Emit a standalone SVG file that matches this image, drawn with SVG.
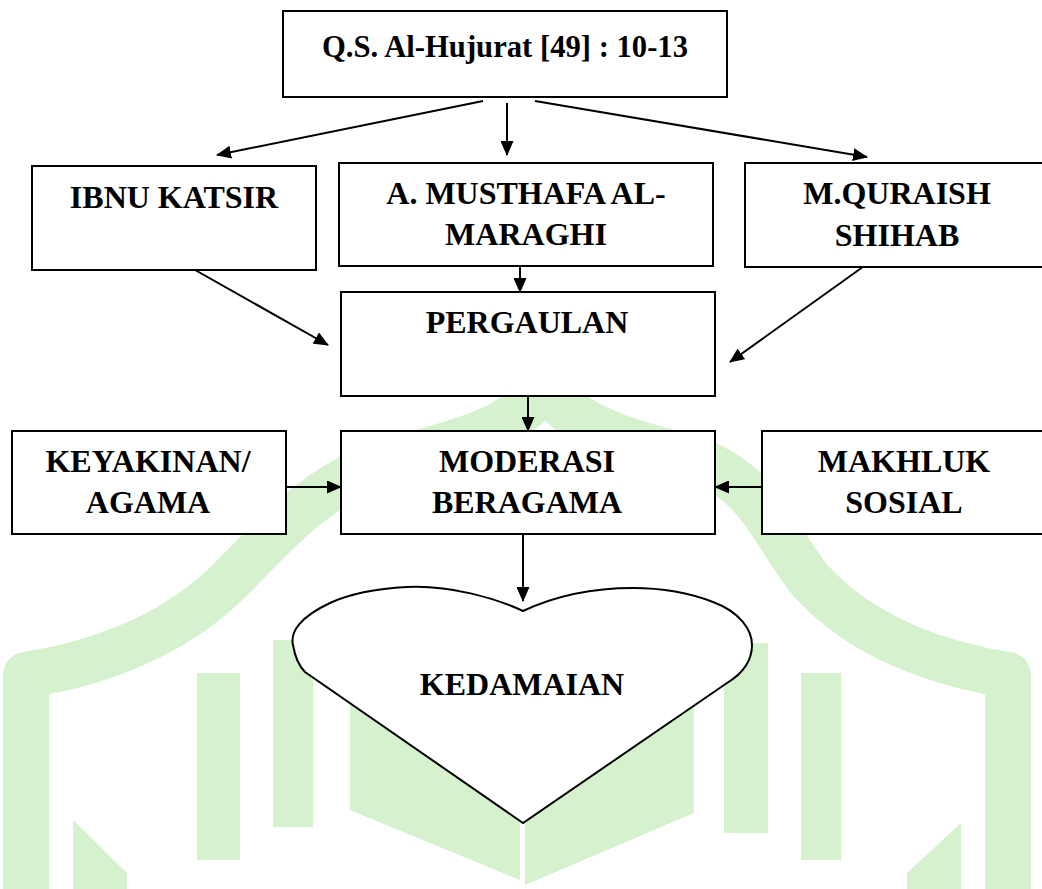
<svg xmlns="http://www.w3.org/2000/svg" width="1042" height="889" viewBox="0 0 1042 889">
<style>
.box{fill:#fff;stroke:#000;stroke-width:2}
.lbl{font-family:'Liberation Serif','Times New Roman',Times,Tinos,'DejaVu Serif',serif;font-weight:700;font-size:32px;fill:#000;text-anchor:middle}
.con{stroke:#000;stroke-width:2;fill:none;marker-end:url(#ah)}
.wm{fill:#d6f1ce}
</style>
<defs>
<marker id="ah" markerUnits="userSpaceOnUse" markerWidth="15" markerHeight="13" refX="14" refY="6.5" orient="auto">
<path d="M0,0 L15,6.5 L0,13 Z" fill="#000"/>
</marker>
</defs>
<rect width="1042" height="889" fill="#fff"/>
<g id="watermark">
<path d="M26,889 L26,675 C90,665 170,640 230,580 C280,530 320,480 400,458 C470,440 520,425 545,385 C570,425 620,440 690,458 C760,480 770,530 810,580 C864,640 944,665 1008,675 L1008,889" fill="none" stroke="#d6f1ce" stroke-width="46" stroke-linejoin="round"/>
<rect class="wm" x="197" y="673" width="43" height="187"/>
<rect class="wm" x="273" y="640" width="40" height="187"/>
<rect class="wm" x="724" y="643" width="44" height="190"/>
<rect class="wm" x="801" y="673" width="40" height="187"/>
<polygon class="wm" points="350,700 520,700 520,880 350,810"/>
<polygon class="wm" points="525,700 694,700 694,813 525,885"/>
<polygon class="wm" points="73,820 127,873 127,889 73,889"/>
<polygon class="wm" points="961,823 961,889 907,889 907,873"/>
</g>
<g id="connectors">
<line class="con" x1="483" y1="101" x2="217" y2="155"/>
<line class="con" x1="507" y1="103" x2="507" y2="155"/>
<line class="con" x1="535" y1="101" x2="867" y2="157"/>
<line class="con" x1="188" y1="266" x2="328" y2="345"/>
<line class="con" x1="520" y1="266" x2="520" y2="292"/>
<line class="con" x1="867" y1="264" x2="730" y2="362"/>
<line class="con" x1="528" y1="396" x2="528" y2="431"/>
<line class="con" x1="286" y1="487" x2="341" y2="487"/>
<line class="con" x1="762" y1="487" x2="715" y2="487"/>
<line class="con" x1="523" y1="534" x2="523" y2="601"/>
</g>
<g id="n-title">
<rect class="box" x="283" y="11" width="444" height="86"/>
<text class="lbl" x="505" y="57" textLength="366" lengthAdjust="spacingAndGlyphs">Q.S. Al-Hujurat [49] : 10-13</text>
</g>
<g id="n-ibnu">
<rect class="box" x="32" y="166" width="284" height="104"/>
<text class="lbl" x="174" y="208">IBNU KATSIR</text>
</g>
<g id="n-maraghi">
<rect class="box" x="339" y="163" width="374" height="103"/>
<text class="lbl" x="526" y="204">A. MUSTHAFA AL-</text>
<text class="lbl" x="526" y="245">MARAGHI</text>
</g>
<g id="n-shihab">
<rect class="box" x="745" y="163" width="300" height="104"/>
<text class="lbl" x="897" y="204">M.QURAISH</text>
<text class="lbl" x="897" y="246">SHIHAB</text>
</g>
<g id="n-pergaulan">
<rect class="box" x="341" y="292" width="374" height="104"/>
<text class="lbl" x="527" y="333">PERGAULAN</text>
</g>
<g id="n-keyakinan">
<rect class="box" x="12" y="431" width="274" height="103"/>
<text class="lbl" x="148" y="472">KEYAKINAN/</text>
<text class="lbl" x="148" y="513">AGAMA</text>
</g>
<g id="n-moderasi">
<rect class="box" x="341" y="431" width="374" height="103"/>
<text class="lbl" x="527" y="472">MODERASI</text>
<text class="lbl" x="527" y="513">BERAGAMA</text>
</g>
<g id="n-makhluk">
<rect class="box" x="762" y="431" width="283" height="103"/>
<text class="lbl" x="904" y="472">MAKHLUK</text>
<text class="lbl" x="904" y="513">SOSIAL</text>
</g>
<g id="n-kedamaian">
<path class="box" d="M523,611 C495,598 450,585 407,587 C370,589 345,596 330,603 C300,617 290,632 293,645 C295,657 298,665 305,672 L523,823 L727,683 C745,672 752,660 752,645 C752,630 740,612 713,602 C690,593 660,588 633,588 C590,588 555,596 523,611 Z"/>
<text class="lbl" x="522" y="695">KEDAMAIAN</text>
</g>
</svg>
